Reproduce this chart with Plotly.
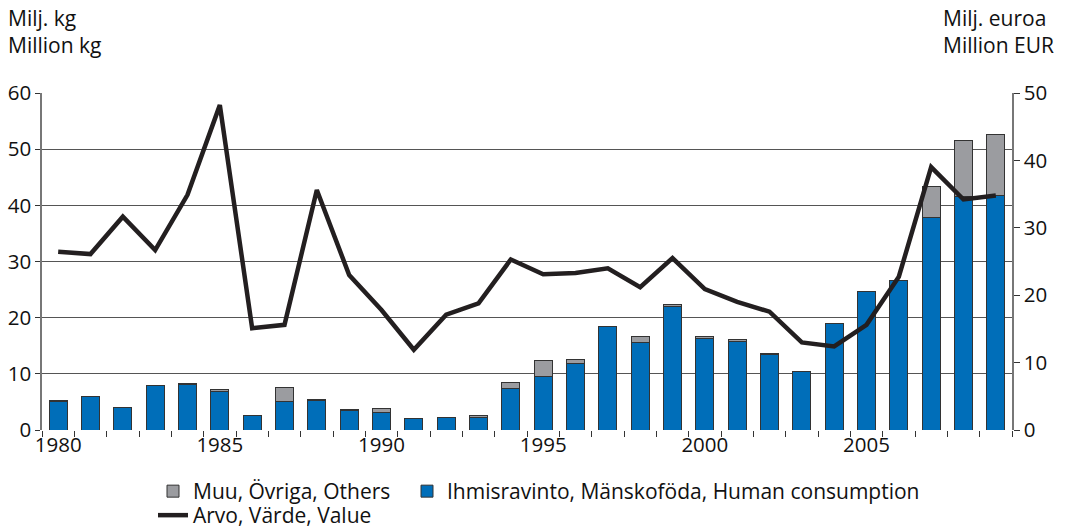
import plotly.graph_objects as go

years = list(range(1980, 2010))
human = [5.0, 5.9, 4.0, 7.9, 8.1, 6.9, 2.5, 5.0, 5.3, 3.5,
         3.2, 2.0, 2.25, 2.3, 7.4, 9.5, 11.8, 18.4, 15.5, 21.95,
         16.3, 15.7, 13.5, 10.45, 18.9, 24.6, 26.6, 37.9, 41.5, 41.7]
others = [0.3, 0.0, 0.0, 0.1, 0.1, 0.3, 0.0, 2.6, 0.2, 0.2,
          0.65, 0.0, 0.0, 0.25, 1.0, 2.9, 0.8, 0.0, 1.1, 0.45,
          0.3, 0.4, 0.15, 0.0, 0.0, 0.1, 0.1, 5.4, 10.0, 10.9]
value = [26.45, 26.1, 31.65, 26.7, 34.9, 48.2, 15.1, 15.6, 35.6, 23.0,
         17.8, 11.9, 17.1, 18.8, 25.3, 23.1, 23.3, 24.0, 21.2, 25.5,
         20.9, 19.0, 17.55, 13.0, 12.4, 15.6, 22.75, 39.0, 34.2, 34.8]
xtick_vals = [1980, 1985, 1990, 1995, 2000, 2005]

FONT = "Open Sans"
BLUE = "#006EB9"
GREY = "#9B9CA0"
L, R, T, B = 42, 1012, 93, 430
PW, PH = R - L, B - T

fig = go.Figure()
fig.add_trace(go.Bar(x=years, y=human, name="Ihmisravinto, Mänskoföda, Human consumption",
                     marker=dict(color=BLUE, line=dict(color="#333333", width=1)),
                     width=0.56, legend="legend3"))
fig.add_trace(go.Bar(x=years, y=others, name="Muu, Övriga, Others",
                     marker=dict(color=GREY, line=dict(color="#333333", width=1)),
                     width=0.56, legend="legend"))
fig.add_trace(go.Scatter(x=years, y=value, name="Arvo, Värde, Value", yaxis="y2",
                         mode="lines", line=dict(color="#231F20", width=4.5),
                         legend="legend2"))

leg_common = dict(orientation="h", xanchor="left", yanchor="top", font=dict(size=21),
                  itemwidth=30, bgcolor="rgba(0,0,0,0)")

fig.update_layout(
    width=1067, height=528,
    margin=dict(l=L, r=1067 - R, t=T, b=528 - B, autoexpand=False),
    plot_bgcolor="white", paper_bgcolor="white",
    barmode="stack",
    font=dict(family=FONT, size=20, color="#111111"),
    xaxis=dict(range=[1979.5, 2009.5], tickvals=xtick_vals, ticks="",
               showgrid=False, showline=False, zeroline=False,
               tickfont=dict(size=20.5), automargin=False,
               minor=dict(ticks="outside", tick0=1979.5, dtick=1, ticklen=6,
                          tickcolor="#333333", showgrid=False)),
    yaxis=dict(range=[0, 60], dtick=10, showgrid=True, gridcolor="#555555", gridwidth=1,
               showline=True, linecolor="#777777", linewidth=1.5, zeroline=False,
               ticks="outside", ticklen=5, tickcolor="#333333",
               tickfont=dict(size=20.5), automargin=False),
    yaxis2=dict(range=[0, 50], dtick=10, overlaying="y", side="right", showgrid=False,
                showline=True, linecolor="#777777", linewidth=1.5, zeroline=False,
                ticks="outside", ticklen=6, tickcolor="#333333", tickfont=dict(size=20.5),
                automargin=False),
    showlegend=True,
    legend=dict(x=(153 - L) / PW, y=(B - 471) / PH, **leg_common),
    legend3=dict(x=(407 - L) / PW, y=(B - 471) / PH, **leg_common),
    legend2=dict(x=(153 - L) / PW, y=(B - 495) / PH, **leg_common),
    annotations=[
        dict(text="Milj. kg<br>Million kg", xref="paper", yref="paper", x=(6 - L) / PW, y=(B - 2) / PH,
             xanchor="left", yanchor="top", showarrow=False, align="left",
             font=dict(size=21)),
        dict(text="Milj. euroa<br>Million EUR", xref="paper", yref="paper",
             x=(941 - L) / PW, y=(B - 2) / PH, xanchor="left", yanchor="top",
             showarrow=False, align="left", font=dict(size=21)),
    ],
)

fig.write_html("out.html", config={"displayModeBar": False},
               post_script="document.body.style.margin='0px';")
